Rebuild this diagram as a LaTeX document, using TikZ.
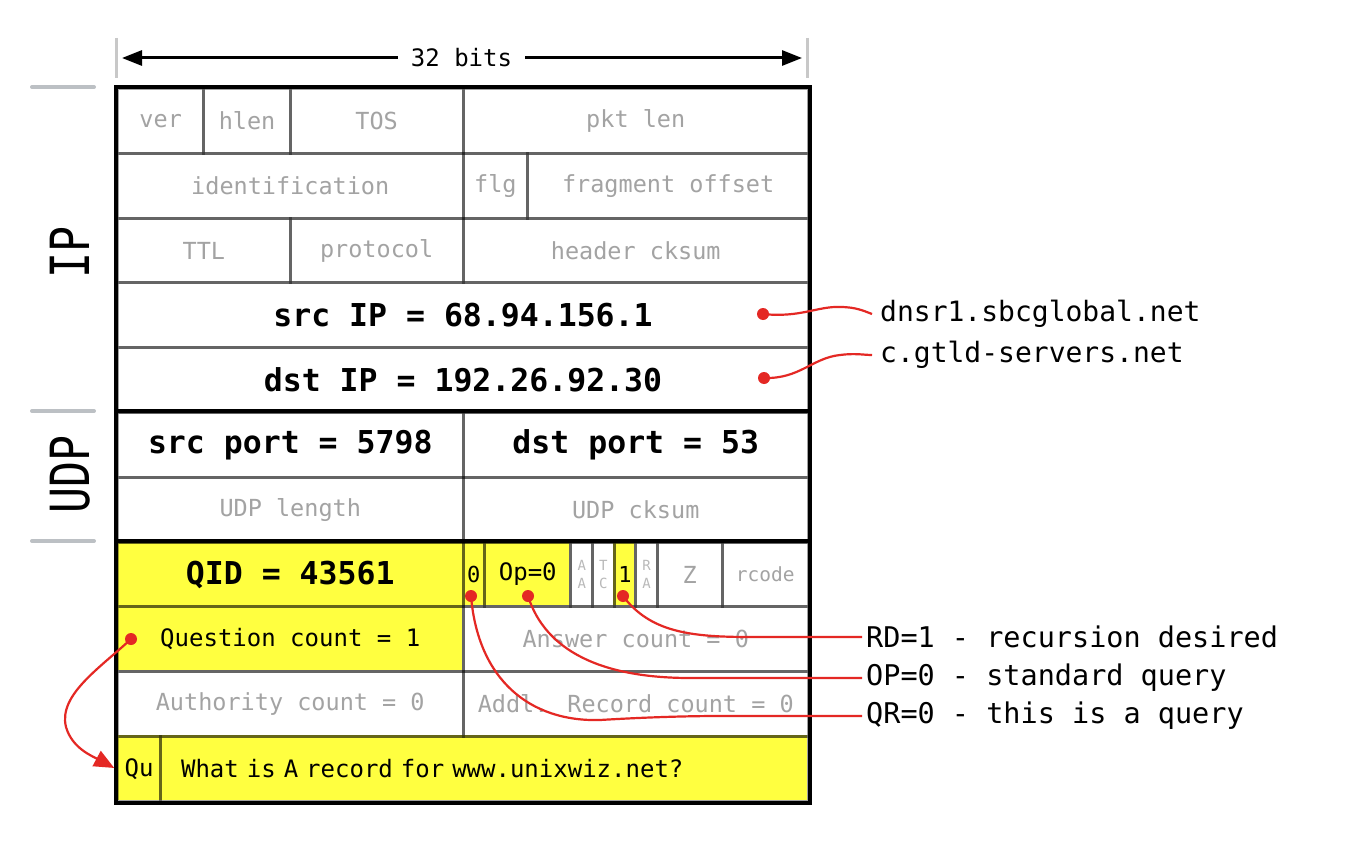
\documentclass[tikz,border=0pt]{standalone}
\usepackage{fontspec}
\setmainfont{DejaVu Sans Mono}
\usetikzlibrary{arrows.meta}
\definecolor{hiyel}{RGB}{255,255,64}
\definecolor{txtgray}{RGB}{163,163,163}
\definecolor{tinygray}{RGB}{185,185,185}
\definecolor{redc}{RGB}{228,40,36}
\definecolor{bargray}{RGB}{188,192,196}
\definecolor{tickgray}{RGB}{200,200,200}
\newcommand\dnscell[6]{\node[cellbox,#5,minimum width={#3*21.594pt},minimum height=64.8pt,anchor=north west] (#1) at ({116+#2*21.594},{87+#4*64.8}) {#6};}
\newcommand\hlfill[3]{\fill[hiyel] ({116+#1*21.594},{87+#3*64.8}) rectangle ({116+(#1+#2)*21.594},{87+(#3+1)*64.8});}
\tikzset{
  cellbox/.style={draw=black, draw opacity=0.37, line width=3pt, inner sep=0pt,
    font=\fontsize{23.5}{26}\selectfont, text=txtgray},
  bigtxt/.style={font=\fontsize{31.5}{34}\selectfont\bfseries, text=black},
  blktxt/.style={text=black, font=\fontsize{24}{26}\selectfont},
  flagtxt/.style={text=black, font=\fontsize{22}{24}\selectfont},
  tinytxt/.style={font=\fontsize{14}{18}\selectfont, align=center, text=tinygray},
  smalltxt/.style={font=\fontsize{19.5}{22}\selectfont},
  whatbox/.style={text width=607pt, inner xsep=20pt, align=left},
  dotn/.style={circle, fill=redc, minimum size=12pt, inner sep=0pt},
  redline/.style={draw=redc, line width=2.2pt},
  labr/.style={font=\fontsize{28}{30}\selectfont, anchor=west, inner xsep=8pt, inner ysep=2pt},
  labq/.style={font=\fontsize{28.5}{30}\selectfont, anchor=west, inner xsep=4pt, inner ysep=2pt},
  sidelab/.style={rotate=90, font=\fontsize{54}{54}\selectfont, inner sep=0pt},
  thickrule/.style={draw=black, line width=4pt},
}
\begin{document}
\begin{tikzpicture}[x=1pt, y=-1pt]
\useasboundingbox (0,0) rectangle (1356,848);
\fill[white] (0,0) rectangle (1356,848);

% top bit-width ruler
\draw[tickgray, line width=3pt] (116,38) -- (116,78);
\draw[tickgray, line width=3pt] (807,38) -- (807,78);
\node[font=\fontsize{24}{24}\selectfont, inner xsep=13pt, inner ysep=2pt] (bits) at (461.5,58) {32 bits};
\coordinate (bitsL) at (122,58);
\coordinate (bitsR) at (802,58);
\draw[line width=3pt, -{Triangle[length=20pt,width=15pt]}] (bits.west) -- (bitsL);
\draw[line width=3pt, -{Triangle[length=20pt,width=15pt]}] (bits.east) -- (bitsR);

% left side labels
\draw[bargray, line width=4pt, line cap=round] (32,87) -- (94,87);
\draw[bargray, line width=4pt, line cap=round] (32,411) -- (94,411);
\draw[bargray, line width=4pt, line cap=round] (32,541) -- (94,541);
\node[sidelab] (iplab) at (70,252) {\scalebox{0.8}[1]{IP}};
\node[sidelab] (udplab) at (70,474) {\scalebox{0.8}[1]{UDP}};

% yellow highlights
\hlfill{0}{16}{7}
\hlfill{16}{1}{7}
\hlfill{17}{4}{7}
\hlfill{23}{1}{7}
\hlfill{0}{16}{8}
\hlfill{0}{32}{10}

% IP header
\dnscell{ver}{0}{4}{0}{}{ver}
\dnscell{hlen}{4}{4}{0}{}{hlen}
\dnscell{tos}{8}{8}{0}{}{TOS}
\dnscell{pktlen}{16}{16}{0}{}{pkt len}
\dnscell{ident}{0}{16}{1}{}{identification}
\dnscell{flg}{16}{3}{1}{}{flg}
\dnscell{frag}{19}{13}{1}{}{fragment offset}
\dnscell{ttl}{0}{8}{2}{}{TTL}
\dnscell{proto}{8}{8}{2}{}{protocol}
\dnscell{hcksum}{16}{16}{2}{}{header cksum}
\dnscell{srcip}{0}{32}{3}{bigtxt}{src IP = 68.94.156.1}
\dnscell{dstip}{0}{32}{4}{bigtxt}{dst IP = 192.26.92.30}
% UDP header
\dnscell{srcport}{0}{16}{5}{bigtxt}{src port = 5798}
\dnscell{dstport}{16}{16}{5}{bigtxt}{dst port = 53}
\dnscell{udplen}{0}{16}{6}{}{UDP length}
\dnscell{udpck}{16}{16}{6}{}{UDP cksum}
% DNS
\dnscell{qid}{0}{16}{7}{bigtxt}{QID = 43561}
\dnscell{qr}{16}{1}{7}{flagtxt}{0}
\dnscell{op}{17}{4}{7}{blktxt}{Op=0}
\dnscell{aa}{21}{1}{7}{tinytxt}{A\\A}
\dnscell{tc}{22}{1}{7}{tinytxt}{T\\C}
\dnscell{rd}{23}{1}{7}{flagtxt}{1}
\dnscell{ra}{24}{1}{7}{tinytxt}{R\\A}
\dnscell{z}{25}{3}{7}{}{Z}
\dnscell{rcode}{28}{4}{7}{smalltxt}{rcode}
\dnscell{qcount}{0}{16}{8}{blktxt}{Question count = 1}
\dnscell{acount}{16}{16}{8}{}{Answer count = 0}
\dnscell{nscount}{0}{16}{9}{}{Authority count = 0}
\dnscell{arcount}{16}{16}{9}{}{Addl. Record count = 0}
\dnscell{qu}{0}{2}{10}{blktxt}{Qu}
\dnscell{what}{2}{30}{10}{blktxt,whatbox}{What is A record for www.unixwiz.net?}

% heavy rules
\draw[thickrule] (ver.north west) rectangle (what.south east);
\draw[thickrule] (srcport.north west) -- (dstport.north east);
\draw[thickrule] (qid.north west) -- (rcode.north east);

% annotations
\node[dotn] (srcdot) at (763,314) {};
\node[dotn] (dstdot) at (764,378) {};
\node[dotn] (qrdot) at (471,596) {};
\node[dotn] (opdot) at (528,596) {};
\node[dotn] (rddot) at (623,596) {};
\node[dotn] (qdot) at (131,639) {};

\node[labr] (srclab) at (872,314) {dnsr1.sbcglobal.net};
\node[labr] (dstlab) at (872,355) {c.gtld-servers.net};
\node[labq] (rdlab) at (862,637) {RD=1 - recursion desired};
\node[labq] (oplab) at (862,678) {OP=0 - standard query};
\node[labq] (qrlab) at (862,716) {QR=0 - this is a query};

\draw[redline] (srcdot.center) .. controls (800,318) and (818,306) .. (840,307)
   .. controls (856,307) and (864,311) .. (srclab.west);
\draw[redline] (dstdot.center) .. controls (800,379) and (812,358) .. (840,355)
   .. controls (855,353) and (864,355) .. (dstlab.west);
\draw[redline] (rddot.center) .. controls (650,632) and (690,637) .. (750,637) -- (rdlab.west);
\draw[redline] (opdot.center) .. controls (545,650) and (600,678) .. (690,678) -- (oplab.west);
\draw[redline] (qrdot.center) .. controls (478,680) and (530,722) .. (600,720)
   .. controls (650,717) and (690,716) .. (720,716) -- (qrlab.west);
\draw[redline, shorten >=2pt, -{Triangle[length=20pt,width=17pt]}] (qdot.center)
   .. controls (100,668) and (58,695) .. (66,727)
   .. controls (72,748) and (92,756) .. (qu.west);
\end{tikzpicture}
\end{document}
